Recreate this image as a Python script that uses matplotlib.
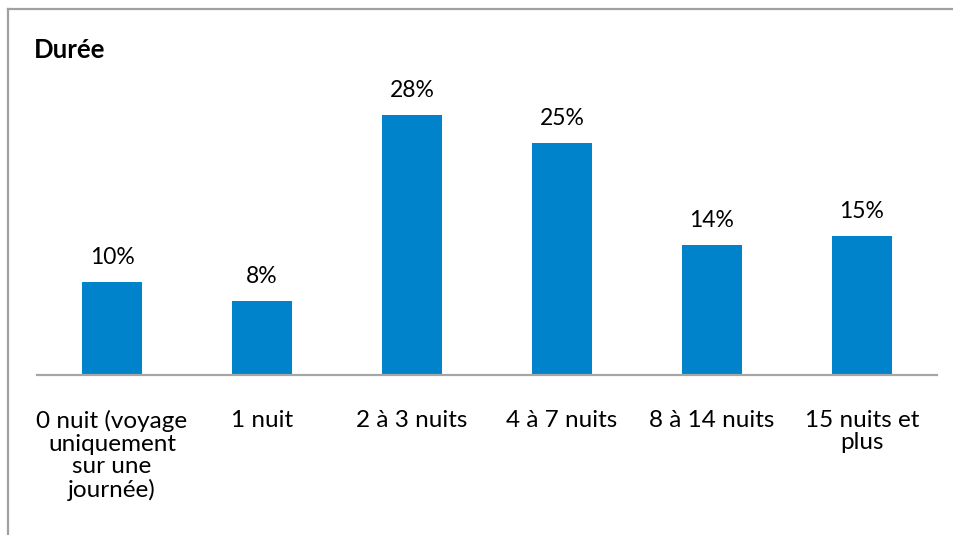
import matplotlib
matplotlib.use("Agg")
import matplotlib.pyplot as plt
from matplotlib.lines import Line2D

categories = ["0 nuit (voyage\nuniquement\nsur une\njournée)", "1 nuit", "2 à 3 nuits",
              "4 à 7 nuits", "8 à 14 nuits", "15 nuits et\nplus"]
values = [10, 8, 28, 25, 14, 15]
labels = ["10%", "8%", "28%", "25%", "14%", "15%"]
title = "Durée"

plt.rcParams['font.family'] = ['Lato', 'DejaVu Sans']

W, H = 954, 535
fig = plt.figure(figsize=(W / 100, H / 100), dpi=100)
fig.patch.set_facecolor("white")

ax = fig.add_axes([37 / W, (H - 375) / H, 900 / W, 300 / H])
x = list(range(len(categories)))
bars = ax.bar(x, values, width=0.4, color="#0083CA")
ax.set_xlim(-0.5, len(categories) - 0.5)
ax.set_ylim(0, 300 / 9.286)

for b, lab in zip(bars, labels):
    ax.annotate(lab, (b.get_x() + b.get_width() / 2, b.get_height()),
                xytext=(0, 10), textcoords="offset points",
                ha="center", va="bottom", fontsize=16.5, color="black")

ax.set_xticks(x)
ax.set_xticklabels(categories, fontsize=17.5, linespacing=1.1, va="top", ha="center")
ax.tick_params(axis="x", length=0, pad=25)
ax.set_yticks([])
for s in ["top", "right", "left"]:
    ax.spines[s].set_visible(False)
ax.spines["bottom"].set_color("#a6a6a6")
ax.spines["bottom"].set_linewidth(1.6)

fig.text(34 / W, 1 - 50 / H, title, fontsize=18.5, fontweight="bold",
         ha="left", va="center", color="black")

# outer frame lines (top and left)
fig.add_artist(Line2D([8 / W, 1.0], [1 - 9 / H, 1 - 9 / H], transform=fig.transFigure,
                      color="#a0a0a0", linewidth=1.6))
fig.add_artist(Line2D([8 / W, 8 / W], [1 - 9 / H, 0], transform=fig.transFigure,
                      color="#a0a0a0", linewidth=1.6))

fig.savefig("out.png", dpi=100, facecolor="white")
